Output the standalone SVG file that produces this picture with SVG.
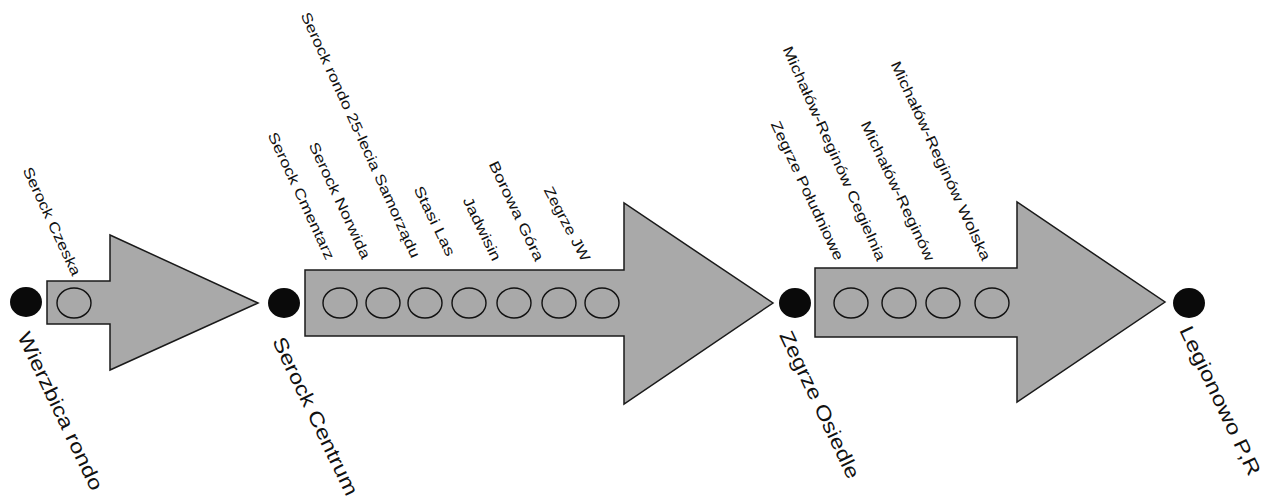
<svg xmlns="http://www.w3.org/2000/svg" width="1270" height="501" viewBox="0 0 1270 501">
<style>
.arrow{fill:#a9a9a9;stroke:#1a1a1a;stroke-width:1.5;stroke-linejoin:miter}
.stop{fill:none;stroke:#111;stroke-width:1.4}
.hub{fill:#0a0a0a}
.s{font-family:"Liberation Sans",Arial,sans-serif;font-size:14.5px;fill:#111}
.b{font-family:"Liberation Sans",Arial,sans-serif;font-size:20px;fill:#111}
</style>
<rect width="1270" height="501" fill="#ffffff"/>
<g id="connectors">
<polygon class="arrow" points="47,281 110,281 110,235 258,303 110,370 110,324 47,324"/>
<polygon class="arrow" points="305,270 624,270 624,203 773,303 624,404 624,336 305,336"/>
<polygon class="arrow" points="815,268 1017,268 1017,202 1165,302 1017,402 1017,337 815,337"/>
</g>
<g id="hub-wierzbica-rondo">
<ellipse class="hub" cx="26" cy="302" rx="16" ry="15"/>
<text class="b" transform="translate(17,336) rotate(64.5)" textLength="173" lengthAdjust="spacingAndGlyphs">Wierzbica rondo</text>
</g>
<g id="hub-serock-centrum">
<ellipse class="hub" cx="284" cy="303" rx="16" ry="15"/>
<text class="b" transform="translate(272,341) rotate(64.5)" textLength="173" lengthAdjust="spacingAndGlyphs">Serock Centrum</text>
</g>
<g id="hub-zegrze-osiedle">
<ellipse class="hub" cx="795" cy="303" rx="16" ry="15"/>
<text class="b" transform="translate(779,335) rotate(64.5)" textLength="161" lengthAdjust="spacingAndGlyphs">Zegrze Osiedle</text>
</g>
<g id="hub-legionowo-pr">
<ellipse class="hub" cx="1189" cy="303" rx="16" ry="15"/>
<text class="b" transform="translate(1179,330) rotate(64.5)" textLength="163" lengthAdjust="spacingAndGlyphs">Legionowo P,R</text>
</g>
<g id="stop-serock-czeska">
<ellipse class="stop" cx="74" cy="303" rx="17" ry="15"/>
<text class="s" transform="translate(22.4,170) rotate(65)" textLength="118" lengthAdjust="spacingAndGlyphs">Serock Czeska</text>
</g>
<g id="stop-serock-cmentarz">
<ellipse class="stop" cx="340" cy="303" rx="17" ry="15"/>
<text class="s" transform="translate(267.4,135) rotate(65)" textLength="139" lengthAdjust="spacingAndGlyphs">Serock Cmentarz</text>
</g>
<g id="stop-serock-norwida">
<ellipse class="stop" cx="383" cy="303" rx="17" ry="15"/>
<text class="s" transform="translate(308.4,145) rotate(65)" textLength="127" lengthAdjust="spacingAndGlyphs">Serock Norwida</text>
</g>
<g id="stop-serock-rondo">
<ellipse class="stop" cx="425" cy="303" rx="17" ry="15"/>
<text class="s" transform="translate(300.4,15) rotate(65.5)" textLength="268" lengthAdjust="spacingAndGlyphs">Serock rondo 25-lecia Samorządu</text>
</g>
<g id="stop-stasi-las">
<ellipse class="stop" cx="469" cy="303" rx="17" ry="15"/>
<text class="s" transform="translate(413.4,189) rotate(64)" textLength="76" lengthAdjust="spacingAndGlyphs">Stasi Las</text>
</g>
<g id="stop-jadwisin">
<ellipse class="stop" cx="514" cy="303" rx="17" ry="15"/>
<text class="s" transform="translate(462.4,200) rotate(64)" textLength="69" lengthAdjust="spacingAndGlyphs">Jadwisin</text>
</g>
<g id="stop-borowa-gora">
<ellipse class="stop" cx="559" cy="303" rx="17" ry="15"/>
<text class="s" transform="translate(488.4,164) rotate(64.5)" textLength="109" lengthAdjust="spacingAndGlyphs">Borowa Góra</text>
</g>
<g id="stop-zegrze-jw">
<ellipse class="stop" cx="602" cy="303" rx="17" ry="15"/>
<text class="s" transform="translate(543.4,190) rotate(62)" textLength="82" lengthAdjust="spacingAndGlyphs">Zegrze JW</text>
</g>
<g id="stop-zegrze-poludniowe">
<ellipse class="stop" cx="851" cy="303" rx="17" ry="15"/>
<text class="s" transform="translate(770.4,124) rotate(64.8)" textLength="152" lengthAdjust="spacingAndGlyphs">Zegrze Południowe</text>
</g>
<g id="stop-michalow-reginow-cegielnia">
<ellipse class="stop" cx="899" cy="303" rx="17" ry="15"/>
<text class="s" transform="translate(782.4,49) rotate(66)" textLength="233" lengthAdjust="spacingAndGlyphs">Michałów-Reginów Cegielnia</text>
</g>
<g id="stop-michalow-reginow">
<ellipse class="stop" cx="943" cy="303" rx="17" ry="15"/>
<text class="s" transform="translate(860.4,124) rotate(64.5)" textLength="153" lengthAdjust="spacingAndGlyphs">Michałów-Reginów</text>
</g>
<g id="stop-michalow-reginow-wolska">
<ellipse class="stop" cx="992" cy="303" rx="17" ry="15"/>
<text class="s" transform="translate(890.4,64) rotate(65.1)" textLength="218" lengthAdjust="spacingAndGlyphs">Michałów-Reginów Wolska</text>
</g>
</svg>
